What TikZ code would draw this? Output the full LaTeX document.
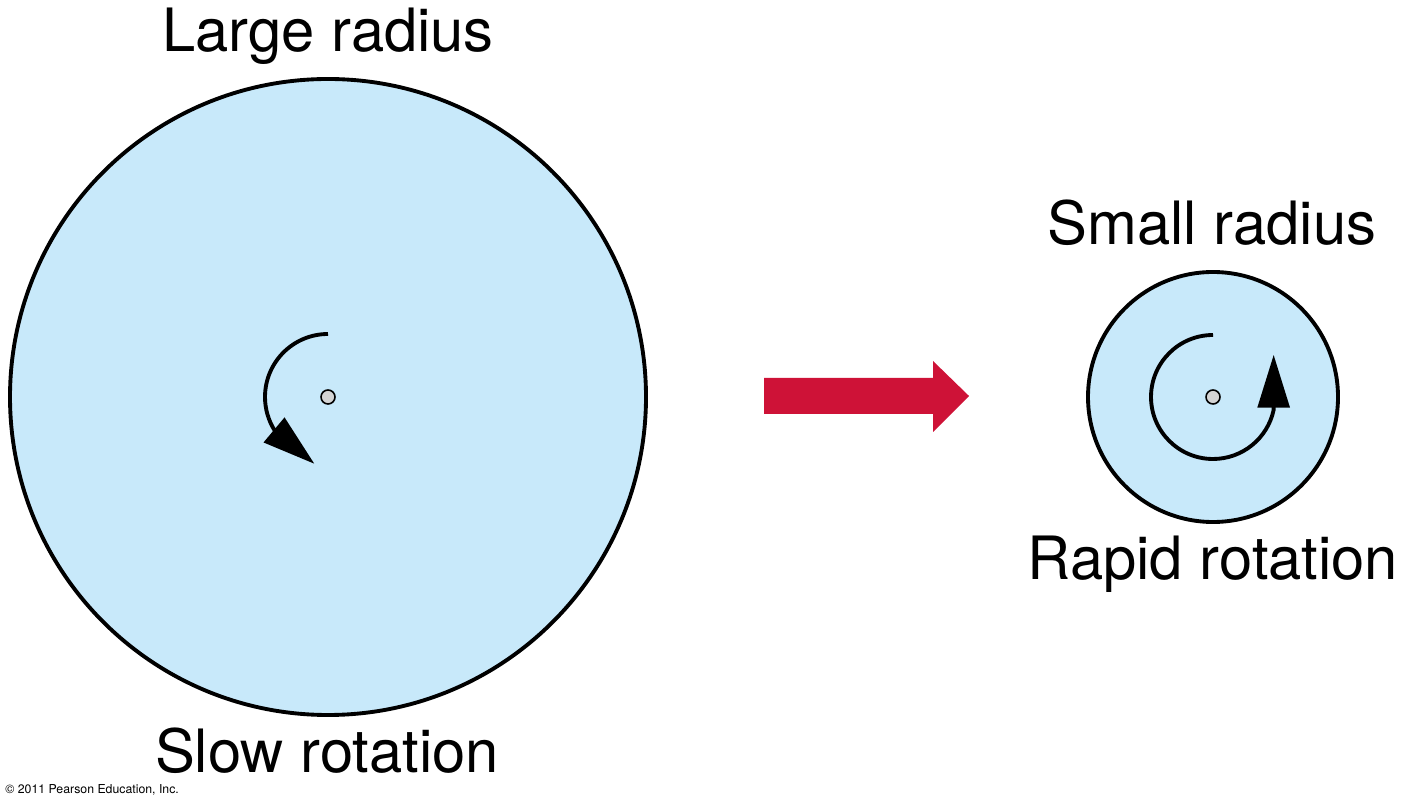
\documentclass[tikz,border=0pt]{standalone}
\usepackage{fontspec}
\setmainfont{TeX Gyre Heros}
\usetikzlibrary{arrows.meta}
\definecolor{diskblue}{HTML}{C8E9FA}
\definecolor{axisgray}{HTML}{D4D4D4}
\definecolor{flowred}{HTML}{CE1237}
\begin{document}
\begin{tikzpicture}[
    disk/.style={draw, circle, fill=diskblue, line width=2.2pt, inner sep=0pt},
    axis/.style={draw, circle, fill=axisgray, line width=0.9pt, inner sep=0pt, minimum size=0.28cm},
    spin/.style={line width=2.2pt, -{Triangle[length=30pt,width=18pt]}},
    caption/.style={anchor=base, font=\fontsize{34}{40}\selectfont}
  ]
    \useasboundingbox (0,0) rectangle (28.04,16.08);

    % Clouds
    \node[disk, minimum size=12.72cm] (c1) at (6.56,8.14) {};
    \node[disk, minimum size=5cm]     (c2) at (24.26,8.14) {};

    % Rotation axes
    \node[axis] (a1) at (c1.center) {};
    \node[axis] (a2) at (c2.center) {};

    % Rotation arrows
    \draw[spin] ([yshift=1.26cm]a1.center) arc[start angle=90, end angle=212, radius=1.26cm] -- ++(-40:1.04cm);
    \draw[spin] ([yshift=1.24cm]a2.center) arc[start angle=90, end angle=348, radius=1.24cm] -- ++(90:1.1cm);

    % Collapse arrow
    \fill[flowred] (15.28,8.52) -- (18.66,8.52) -- (18.66,8.86) -- (19.38,8.16)
        -- (18.66,7.44) -- (18.66,7.80) -- (15.28,7.80) -- cycle;

    % Labels
    \node[caption] (l1) at (6.56,15.04)  {Large radius};
    \node[caption] (l2) at (6.54,0.64)   {Slow rotation};
    \node[caption] (l3) at (24.24,11.18) {Small radius};
    \node[caption] (l4) at (24.26,4.48)  {Rapid rotation};
    \node[anchor=base west, inner sep=0pt, font=\fontsize{7}{8}\selectfont] (cr) at (0.1,0.22) {© 2011 Pearson Education, Inc.};
\end{tikzpicture}
\end{document}
